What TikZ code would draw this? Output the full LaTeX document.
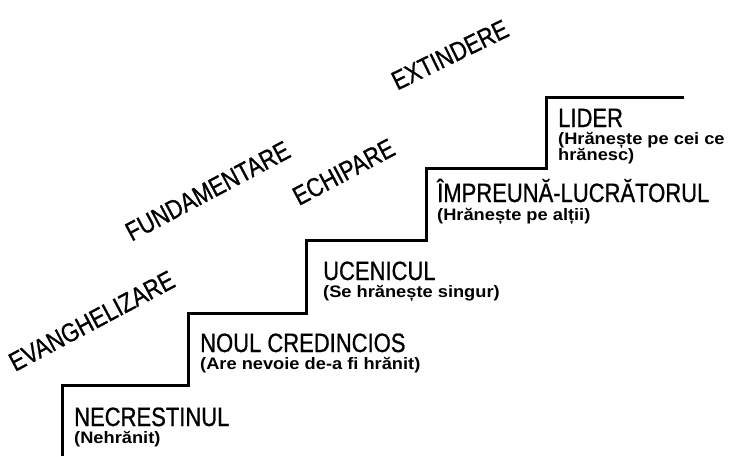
\documentclass[tikz,border=0pt]{standalone}
\usepackage{fontspec}
\setmainfont{Liberation Sans}
\newfontfamily\stepfont{Liberation Sans}[FakeStretch=0.83, FakeBold=0.8]
\newfontfamily\notefont{Liberation Sans}[FakeStretch=1.1]
\usetikzlibrary{positioning}

\tikzset{
  title/.style={anchor=base west, inner sep=0pt,
    font=\stepfont\fontsize{26.5}{26.5}\selectfont},
  note/.style={anchor=base west, inner sep=0pt,
    font=\notefont\bfseries\fontsize{16.6}{16}\selectfont},
  phase/.style={anchor=base, inner sep=0pt, rotate=28,
    font=\stepfont\fontsize{26.5}{26.5}\selectfont}
}

\begin{document}
\begin{tikzpicture}[x=1pt, y=-1pt]
  \useasboundingbox (0,0) rectangle (729,456);

  % the stairs
  \draw[line width=3pt]
        (62,456) -- (62,385) -- (188,385) -- (188,313) -- (306,313)
        -- (306,240) -- (426,240) -- (426,168) -- (546,168)
        -- (546,97) -- (684,97);

  % the steps
  \node[title] (necr) at (74,426)  {NECRESTINUL};
  \node[note]  (necrn) at (74,443) {(Nehrănit)};
  \node[title] (noul) at (200,352) {NOUL CREDINCIOS};
  \node[note]  (nouln) at (200,369) {(Are nevoie de-a fi hrănit)};
  \node[title] (ucen) at (323,280) {UCENICUL};
  \node[note]  (ucenn) at (323,297) {(Se hrănește singur)};
  \node[title] (impr) at (437,202) {ÎMPREUNĂ-LUCRĂTORUL};
  \node[note]  (imprn) at (437,220) {(Hrănește pe alții)};
  \node[title] (lider) at (558,127) {LIDER};
  \node[note]  (lidern) at (558,144) {(Hrănește pe cei ce};
  \node[note]  (lidern2) at (558,160) {hrănesc)};

  % the phases
  \node[phase] (evan) at (96,329)  {EVANGHELIZARE};
  \node[phase] (fund) at (212,199) {FUNDAMENTARE};
  \node[phase] (echi) at (348,180) {ECHIPARE};
  \node[phase, rotate=-2] (exti) at (454,63) {EXTINDERE};
\end{tikzpicture}
\end{document}
